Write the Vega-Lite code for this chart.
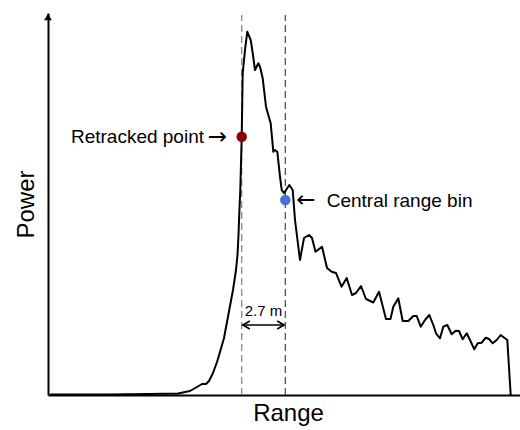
{
  "$schema": "https://vega.github.io/schema/vega-lite/v6.json",
  "width": 472,
  "height": 382,
  "autosize": {"type": "none"},
  "padding": {"left": 48, "top": 13, "right": 0, "bottom": 35},
  "config": {
    "view": {"stroke": null},
    "font": "Liberation Sans",
    "axis": {
      "domainColor": "black",
      "domainWidth": 2,
      "ticks": false,
      "labels": false,
      "grid": false,
      "titleFont": "Liberation Sans",
      "titleFontSize": 24,
      "titleFontWeight": "normal",
      "titleColor": "black"
    }
  },
  "datasets": {
    "wave": [
      {"x": 2, "y": 0.5}, {"x": 60, "y": 0.5}, {"x": 100, "y": 1}, {"x": 130, "y": 1.5},
      {"x": 142, "y": 4}, {"x": 149, "y": 8}, {"x": 154, "y": 11}, {"x": 158, "y": 11},
      {"x": 161, "y": 14}, {"x": 165, "y": 22}, {"x": 169, "y": 33}, {"x": 172, "y": 43},
      {"x": 176, "y": 57}, {"x": 179, "y": 73}, {"x": 182, "y": 89}, {"x": 185, "y": 105},
      {"x": 188, "y": 125}, {"x": 189.5, "y": 140}, {"x": 190.5, "y": 160}, {"x": 191.3, "y": 182},
      {"x": 192.3, "y": 205}, {"x": 193.7, "y": 258.3}, {"x": 194.7, "y": 321.7}, {"x": 197, "y": 345},
      {"x": 199.3, "y": 363.3}, {"x": 202.7, "y": 355}, {"x": 204.7, "y": 342}, {"x": 207, "y": 325},
      {"x": 210.3, "y": 331.7}, {"x": 212, "y": 328.3}, {"x": 214.7, "y": 316.7}, {"x": 218, "y": 288.3},
      {"x": 220.3, "y": 280}, {"x": 222.7, "y": 271.7}, {"x": 225.3, "y": 243.3}, {"x": 227, "y": 245},
      {"x": 229.3, "y": 243.3}, {"x": 232, "y": 218.3}, {"x": 233.7, "y": 205}, {"x": 236, "y": 201.7},
      {"x": 241.3, "y": 210}, {"x": 244.7, "y": 205}, {"x": 247, "y": 175}, {"x": 252, "y": 135},
      {"x": 256, "y": 157}, {"x": 261, "y": 160}, {"x": 264, "y": 157}, {"x": 267.5, "y": 143.3},
      {"x": 274, "y": 148.3}, {"x": 279, "y": 127}, {"x": 283.7, "y": 123.3}, {"x": 288, "y": 122},
      {"x": 293.5, "y": 108.3}, {"x": 298.7, "y": 117}, {"x": 304, "y": 100}, {"x": 308, "y": 102},
      {"x": 313, "y": 109}, {"x": 318, "y": 96}, {"x": 325.3, "y": 92.5}, {"x": 331, "y": 103.3},
      {"x": 338, "y": 76}, {"x": 342.5, "y": 76}, {"x": 345.3, "y": 88.3}, {"x": 350.3, "y": 96.7},
      {"x": 354.7, "y": 74}, {"x": 360.3, "y": 74}, {"x": 365.3, "y": 79}, {"x": 368.7, "y": 79},
      {"x": 372.7, "y": 68.3}, {"x": 377, "y": 75}, {"x": 381.3, "y": 80}, {"x": 385.3, "y": 70},
      {"x": 388, "y": 61.7}, {"x": 392, "y": 56.7}, {"x": 395.3, "y": 68.3}, {"x": 399.3, "y": 70},
      {"x": 403.7, "y": 60.7}, {"x": 407.7, "y": 64.3}, {"x": 411, "y": 64}, {"x": 414.7, "y": 55.7},
      {"x": 418.7, "y": 61.7}, {"x": 422, "y": 55}, {"x": 426.3, "y": 45.7}, {"x": 429.7, "y": 51.7},
      {"x": 433.7, "y": 52.3}, {"x": 437.7, "y": 57.3}, {"x": 441, "y": 56}, {"x": 444.7, "y": 51.7},
      {"x": 448.7, "y": 55}, {"x": 452.7, "y": 60}, {"x": 456.3, "y": 57.3}, {"x": 459.3, "y": 55},
      {"x": 462.7, "y": 0}
    ]
  },
  "encoding": {
    "x": {"field": "x", "type": "quantitative", "scale": {"domain": [0, 472], "nice": false, "zero": false}, "axis": {"title": "Range", "titlePadding": 6, "titleX": 240}},
    "y": {"field": "y", "type": "quantitative", "scale": {"domain": [0, 382], "nice": false, "zero": false}, "axis": {"title": "Power", "titlePadding": 10}}
  },
  "layer": [
    {
      "data": {"values": [{"x": 193.7, "y": 0, "y2": 380}]},
      "mark": {"type": "rule", "color": "#888888", "strokeWidth": 1.3, "strokeDash": [7, 4]},
      "encoding": {"y2": {"field": "y2"}}
    },
    {
      "data": {"values": [{"x": 237.3, "y": 0, "y2": 380}]},
      "mark": {"type": "rule", "color": "#444444", "strokeWidth": 1.2, "strokeDash": [7, 4]},
      "encoding": {"y2": {"field": "y2"}}
    },
    {
      "data": {"name": "wave"},
      "mark": {"type": "line", "color": "black", "strokeWidth": 2, "strokeJoin": "round"}
    },
    {
      "data": {"values": [{"x": 193.7, "y": 258.3}]},
      "mark": {"type": "point", "filled": true, "color": "#8B0000", "size": 110, "opacity": 1}
    },
    {
      "data": {"values": [{"x": 237.3, "y": 195}]},
      "mark": {"type": "point", "filled": true, "color": "#4A6FD4", "size": 110, "opacity": 1}
    },
    {
      "data": {"values": [{"x": 195, "x2": 236, "y": 70}]},
      "mark": {"type": "rule", "color": "black", "strokeWidth": 1.6},
      "encoding": {"x2": {"field": "x2"}}
    },
    {
      "data": {"values": [{"x": 194.8, "y": 70}]},
      "mark": {"type": "point", "shape": "M1.4,-0.8L0,0L1.4,0.8", "filled": false, "color": "black", "strokeWidth": 1.6, "size": 100, "opacity": 1}
    },
    {
      "data": {"values": [{"x": 236.2, "y": 70}]},
      "mark": {"type": "point", "shape": "M-1.4,-0.8L0,0L-1.4,0.8", "filled": false, "color": "black", "strokeWidth": 1.6, "size": 100, "opacity": 1}
    },
    {
      "data": {"values": [{"x": 0, "y": 378}]},
      "mark": {"type": "point", "shape": "triangle-up", "filled": true, "color": "black", "size": 60, "opacity": 1}
    },
    {
      "data": {"values": [{"x": 215.5, "y": 79, "t": "2.7 m"}]},
      "mark": {"type": "text", "fontSize": 15, "align": "center", "baseline": "alphabetic", "color": "black"},
      "encoding": {"text": {"field": "t"}}
    },
    {
      "data": {"values": [{"x": 156, "y": 251.7, "t": "Retracked point"}]},
      "mark": {"type": "text", "fontSize": 19, "align": "right", "baseline": "alphabetic", "color": "black"},
      "encoding": {"text": {"field": "t"}}
    },
    {
      "data": {"values": [{"x": 169.5, "y": 258.3, "t": "→"}]},
      "mark": {"type": "text", "font": "DejaVu Sans", "fontSize": 23, "align": "center", "baseline": "middle", "color": "black"},
      "encoding": {"text": {"field": "t"}}
    },
    {
      "data": {"values": [{"x": 258, "y": 195, "t": "←"}]},
      "mark": {"type": "text", "font": "DejaVu Sans", "fontSize": 23, "align": "center", "baseline": "middle", "color": "black"},
      "encoding": {"text": {"field": "t"}}
    },
    {
      "data": {"values": [{"x": 278.7, "y": 188.3, "t": "Central range bin"}]},
      "mark": {"type": "text", "fontSize": 19, "align": "left", "baseline": "alphabetic", "color": "black"},
      "encoding": {"text": {"field": "t"}}
    }
  ]
}
